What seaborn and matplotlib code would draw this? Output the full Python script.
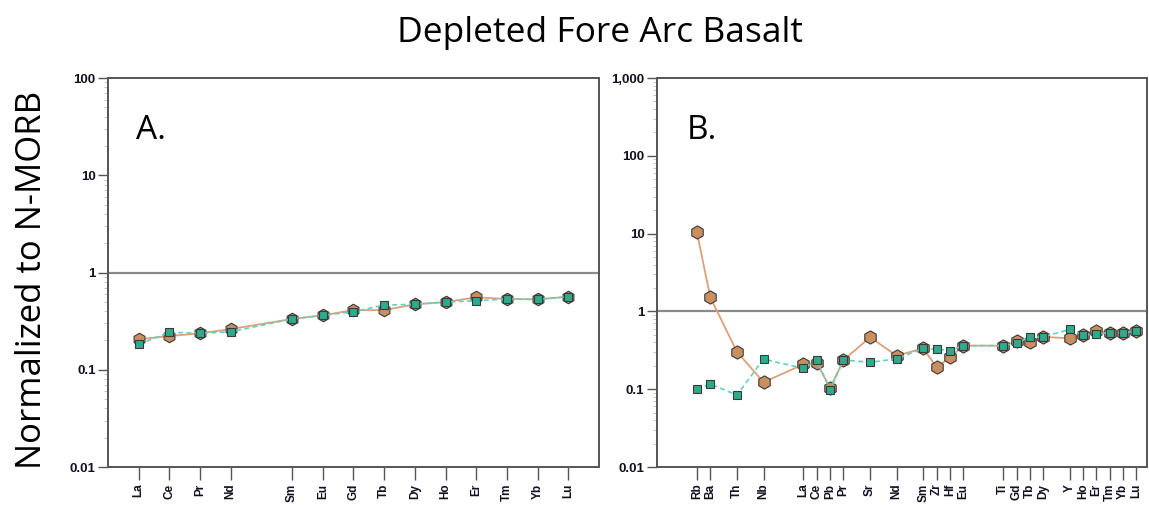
import numpy as np
import pandas as pd
import matplotlib
matplotlib.use("Agg")
import matplotlib.pyplot as plt
import seaborn as sns
from matplotlib.ticker import FuncFormatter, LogLocator, NullFormatter

# ---------------- data ----------------
title = "Depleted Fore Arc Basalt"
ylabel = "Normalized to N-MORB"

ree_labels = ["La", "Ce", "Pr", "Nd", "Sm", "Eu", "Gd", "Tb", "Dy", "Ho", "Er", "Tm", "Yb", "Lu"]
ree_pos = [0, 1, 2, 3, 5, 6, 7, 8, 9, 10, 11, 12, 13, 14]
ree_hex = [0.206, 0.222, 0.237, 0.262, 0.333, 0.363, 0.411, 0.41, 0.471, 0.497, 0.556, 0.534, 0.53, 0.564]
ree_sq = [0.183, 0.243, 0.237, 0.246, 0.333, 0.363, 0.395, 0.463, 0.471, 0.497, 0.513, 0.534, 0.53, 0.564]

spider_labels = ["Rb", "Ba", "Th", "Nb", "La", "Ce", "Pb", "Pr", "Sr", "Nd", "Sm", "Zr", "Hf", "Eu",
                 "Ti", "Gd", "Tb", "Dy", "Y", "Ho", "Er", "Tm", "Yb", "Lu"]
spider_pos = [0, 1, 3, 5, 8, 9, 10, 11, 13, 15, 17, 18, 19, 20, 23, 24, 25, 26, 28, 29, 30, 31, 32, 33]
spider_hex = [10.4, 1.52, 0.303, 0.123, 0.209, 0.219, 0.103, 0.237, 0.465, 0.27, 0.335, 0.191, 0.257, 0.363,
              0.363, 0.411, 0.41, 0.471, 0.451, 0.497, 0.556, 0.534, 0.53, 0.564]
spider_sq = [0.0997, 0.117, 0.084, 0.244, 0.185, 0.237, 0.098, 0.237, 0.222, 0.245, 0.335, 0.325, 0.313, 0.363,
             0.363, 0.395, 0.463, 0.471, 0.588, 0.497, 0.513, 0.534, 0.53, 0.564]

# ---------------- style ----------------
sns.set_theme(style="white")
plt.rcParams["font.family"] = ["Liberation Sans", "DejaVu Sans"]
plt.rcParams["text.color"] = "black"
plt.rcParams["xtick.color"] = "#555555"
plt.rcParams["ytick.color"] = "#555555"

hex_fill = "#C98F5E"
hex_line = "#DDA07A"
sq_fill = "#2EAA8C"
sq_line = "#5FD3C2"
edge = "#3a3a3a"
label_col = "#111122"

fig = plt.figure(figsize=(11.49, 5.05), dpi=100)
axA = fig.add_axes([0.094, 0.0752, 0.4273, 0.7703])
axB = fig.add_axes([0.5718, 0.0752, 0.4265, 0.7703])


def draw(ax, pos, labels, hexv, sqv, ymax, xlim, hexsize):
    df = pd.DataFrame({"x": pos, "hex": hexv, "sq": sqv})
    sns.lineplot(data=df, x="x", y="hex", ax=ax, color=hex_line, lw=1.3,
                 marker="h", markersize=hexsize, markerfacecolor=hex_fill,
                 markeredgecolor=edge, markeredgewidth=0.8, zorder=3)
    sns.lineplot(data=df, x="x", y="sq", ax=ax, color=sq_line, lw=1.2, linestyle=(0, (3, 2)),
                 marker="s", markersize=6, markerfacecolor=sq_fill,
                 markeredgecolor=edge, markeredgewidth=0.8, zorder=4)
    ax.set_yscale("log")
    ax.set_ylim(0.01, ymax)
    ax.set_xlim(*xlim)
    ax.axhline(1, color="#8a8a8a", lw=1.6, zorder=2)
    ax.set_xticks(pos)
    ax.set_xticklabels(labels, rotation=90, fontsize=8.5, fontweight="bold", color=label_col)
    ax.set_xlabel("")
    ax.set_ylabel("")
    ax.yaxis.set_major_locator(LogLocator(base=10, numticks=10))
    ax.yaxis.set_minor_locator(LogLocator(base=10, subs=np.arange(2, 10), numticks=10))
    ax.yaxis.set_minor_formatter(NullFormatter())
    ax.yaxis.set_major_formatter(FuncFormatter(lambda v, p: f"{v:,.0f}" if v >= 1 else f"{v:g}"))
    ax.tick_params(axis="y", which="major", direction="out", length=7, width=1, left=True, pad=2,
                   labelsize=9.5, labelcolor=label_col)
    ax.tick_params(axis="y", which="minor", direction="out", length=3, width=0.6, color="#bbbbbb", left=True)
    ax.tick_params(axis="x", which="major", direction="out", length=9, width=1, bottom=True, pad=3)
    for lab in ax.get_yticklabels():
        lab.set_fontweight("bold")
    for s in ax.spines.values():
        s.set_color("#555555")
        s.set_linewidth(1.4)
        s.set_visible(True)
    ax.grid(False)


draw(axA, ree_pos, ree_labels, ree_hex, ree_sq, 100, (-1, 15), 9)
draw(axB, spider_pos, spider_labels, spider_hex, spider_sq, 1000, (-3, 33.8), 9.5)

axA.text(0.058, 0.866, "A.", transform=axA.transAxes, fontsize=24, family="Open Sans", va="center")
axB.text(0.06, 0.866, "B.", transform=axB.transAxes, fontsize=24, family="Open Sans", va="center")

fig.text(0.522, 0.935, title, ha="center", va="center", fontsize=25.5, family="Open Sans")
fig.text(0.028, 0.445, ylabel, ha="center", va="center", rotation=90, fontsize=25, family="Open Sans")

fig.savefig("out.png", dpi=100)
